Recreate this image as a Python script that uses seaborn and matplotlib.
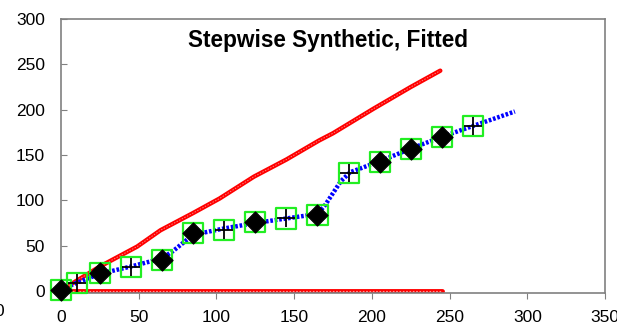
import matplotlib
matplotlib.use("Agg")
import matplotlib.pyplot as plt
import seaborn as sns
import pandas as pd

obs_x = [0, 10, 25, 45, 65, 85, 105, 125, 145, 165, 185, 205, 225, 245, 265]
obs_y = [1, 9, 20, 26, 34, 64, 67, 76, 80, 84, 130, 142, 157, 170, 182]
obs_kind = ["D", "+", "D", "+", "D", "D", "+", "D", "+", "D", "+", "D", "D", "D", "+"]

# stepwise fitted curve (blue)
fit_x = [6, 10, 25, 45, 65, 72, 85, 105, 125, 145, 165, 170, 180, 186, 205, 225, 245, 265, 292]
fit_y = [6, 9, 19, 27, 36, 44, 62, 69, 75, 80, 85, 95, 121, 131, 143, 157, 170, 182, 198]

# cumulative synthetic (red)
cum_x = [5, 25, 49, 64, 85, 102, 124, 145, 166, 175, 201, 225, 244]
cum_y = [6, 27, 49, 67, 86, 102, 126, 145, 166, 174, 201, 225, 243]

# baseline (red, at zero)
base_x = [5, 245]
base_y = [0, 0]

sns.set_style("white")
plt.rcParams["font.family"] = ["Liberation Sans", "DejaVu Sans"]
plt.rcParams["text.color"] = "black"
plt.rcParams["xtick.labelcolor"] = "black"
plt.rcParams["ytick.labelcolor"] = "black"

fig = plt.figure(figsize=(6.17, 3.25), dpi=100)
ax = fig.add_axes([0.0989, 0.0985, 0.8817, 0.843])

red = "#ff0000"
sns.lineplot(x=base_x, y=base_y, ax=ax, color=red, lw=3.5, sort=False,
             estimator=None, zorder=2)
sns.lineplot(x=base_x, y=base_y, ax=ax, color="white", lw=0.8, sort=False,
             estimator=None, zorder=2, alpha=0.6)
ax.lines[-1].set_linestyle((0, (1.5, 1.5)))
sns.lineplot(x=cum_x, y=cum_y, ax=ax, color=red, lw=3.2, sort=False,
             estimator=None, zorder=2)
sns.lineplot(x=cum_x, y=cum_y, ax=ax, color="white", lw=0.7, sort=False,
             estimator=None, zorder=2, alpha=0.5)
ax.lines[-1].set_linestyle((0, (1.5, 1.5)))
sns.lineplot(x=fit_x, y=fit_y, ax=ax, color="#0000ff", lw=3.2,
             sort=False, estimator=None, zorder=3)
ax.lines[-1].set_linestyle((0, (0.6, 0.4)))

df = pd.DataFrame({"x": obs_x, "y": obs_y, "kind": obs_kind})
dia = df[df["kind"] == "D"]
plus = df[df["kind"] == "+"]

sns.scatterplot(data=df, x="x", y="y", ax=ax, marker="s", s=210,
                facecolor="none", edgecolor="#22ee22", linewidth=1.6,
                zorder=4, clip_on=False)
sns.scatterplot(data=dia, x="x", y="y", ax=ax, marker="D", s=115,
                color="black", edgecolor="black", zorder=5, clip_on=False)
sns.scatterplot(data=plus, x="x", y="y", ax=ax, marker="+", s=170,
                color="black", linewidth=1.3, zorder=5, clip_on=False)

ax.set_xlim(0, 350)
ax.set_ylim(-2.2, 300)
ax.set_xticks([0, 50, 100, 150, 200, 250, 300, 350])
ax.set_yticks([0, 50, 100, 150, 200, 250, 300])
ax.set_xlabel("")
ax.set_ylabel("")

for s in ax.spines.values():
    s.set_color("#808080")
    s.set_linewidth(1.2)

ax.tick_params(axis="x", direction="out", length=4, width=0.8,
               color="#808080", labelcolor="black", labelsize=12.5, pad=8,
               bottom=True)
ax.tick_params(axis="y", direction="in", length=4, width=0.8,
               color="#808080", labelcolor="black", labelsize=12.5, pad=11.5,
               left=True)

ax.text(0.49, 0.923, "Stepwise Synthetic, Fitted", transform=ax.transAxes,
        ha="center", va="center", fontsize=16.3, fontweight="bold",
        color="black")

fig.text(-0.002, 0.04, "0", ha="center", va="center", fontsize=12.5,
         color="black")

fig.savefig("out.png", dpi=100)
